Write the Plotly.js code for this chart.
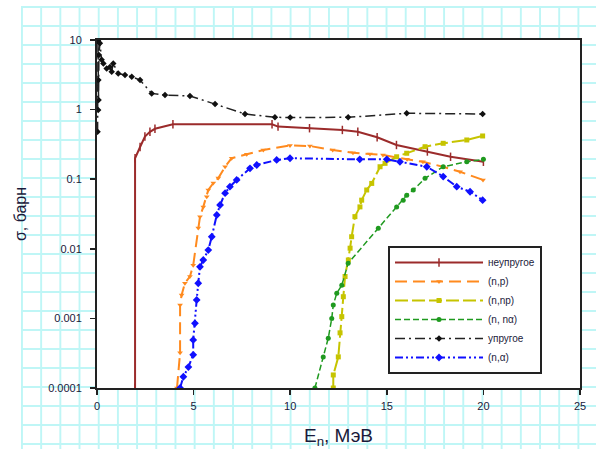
<!DOCTYPE html>
<html>
<head>
<meta charset="utf-8">
<script src="https://cdn.plot.ly/plotly-3.0.1.min.js"></script>
<style>
  html, body { margin: 0; padding: 0; background: #ffffff; }
  #paper {
    position: absolute; left: 21px; top: 6px; right: 0; bottom: 0;
    background-image:
      linear-gradient(to right, #bff6f6 0, #bff6f6 2px, transparent 2px),
      linear-gradient(to bottom, #bff6f6 0, #bff6f6 2px, transparent 2px);
    background-size: 19.2px 19px;
  }
  #chart { position: absolute; left: 0; top: 0; width: 596px; height: 449px; }
</style>
</head>
<body>
<div id="paper"></div>
<div id="chart"></div>
<script>
// Energy (MeV) and cross sections (barn)
const inelE = [1.97, 1.97, 2.23, 2.48, 2.74, 3.0, 3.93, 9.06, 9.37, 11.0, 12.7, 13.5, 14.5, 15.5, 17.1, 18.3, 20.0];
const inelS = [0.0001, 0.20, 0.29, 0.41, 0.48, 0.53, 0.615, 0.615, 0.57, 0.54, 0.51, 0.48, 0.40, 0.31, 0.25, 0.21, 0.178];

const npE = [4.14, 4.30, 4.30, 4.38, 4.55, 4.81, 4.98, 5.24, 5.33, 5.50, 5.68, 5.76, 6.02, 6.28, 6.63, 6.97, 7.75, 8.61, 9.99, 11.02, 12.2, 13.25, 14.13, 14.8, 16.05, 16.87, 17.9, 18.79, 19.98];
const npS = [0.0001, 0.00032, 0.00156, 0.00217, 0.0032, 0.0040, 0.0058, 0.0199, 0.0289, 0.040, 0.056, 0.070, 0.088, 0.104, 0.151, 0.20, 0.228, 0.263, 0.305, 0.30, 0.263, 0.24, 0.23, 0.223, 0.193, 0.178, 0.151, 0.128, 0.0975];

const nnpE = [12.23, 12.23, 12.49, 12.58, 12.67, 12.75, 12.84, 13.01, 13.10, 13.18, 13.35, 13.61, 13.70, 13.96, 14.22, 14.65, 14.91, 15.51, 16.03, 16.98, 17.92, 19.14, 19.96];
const nnpS = [0.0001, 0.000154, 0.00028, 0.00062, 0.00106, 0.00205, 0.0040, 0.0069, 0.0102, 0.0149, 0.029, 0.040, 0.050, 0.070, 0.087, 0.151, 0.169, 0.21, 0.236, 0.293, 0.328, 0.366, 0.418];

const nnaE = [11.28, 11.71, 11.97, 12.15, 12.23, 12.41, 12.67, 13.0, 14.56, 15.51, 15.85, 16.03, 16.37, 16.98, 17.92, 19.14, 20.0];
const nnaS = [0.0001, 0.00028, 0.00052, 0.0010, 0.00156, 0.0023, 0.0030, 0.0062, 0.0197, 0.040, 0.050, 0.059, 0.070, 0.103, 0.151, 0.178, 0.193];

const elE = [0.03, 0.05, 0.06, 0.07, 0.08, 0.10, 0.15, 0.24, 0.33, 0.50, 0.67, 0.76, 0.84, 1.10, 1.45, 1.80, 2.23, 2.83, 3.52, 4.81, 6.11, 7.66, 9.21, 10.0, 13.0, 16.03, 19.96];
const elS = [0.48, 9.8, 0.99, 2.66, 1.37, 6.1, 9.0, 5.2, 4.6, 3.9, 4.1, 3.5, 4.6, 3.3, 3.14, 2.97, 2.66, 1.71, 1.62, 1.57, 1.2, 0.865, 0.775, 0.77, 0.775, 0.885, 0.865];

const naE = [4.30, 4.47, 4.73, 4.98, 4.98, 5.07, 5.16, 5.24, 5.33, 5.50, 5.76, 5.94, 6.20, 6.37, 6.63, 6.88, 7.23, 7.92, 8.27, 9.30, 9.99, 13.6, 15.0, 15.68, 17.07, 17.92, 18.62, 19.31, 19.96];
const naS = [0.0001, 0.000145, 0.00020, 0.00030, 0.00049, 0.00085, 0.00184, 0.0032, 0.0055, 0.0069, 0.0096, 0.0149, 0.0306, 0.0426, 0.063, 0.078, 0.0975, 0.1435, 0.16, 0.189, 0.20, 0.193, 0.193, 0.178, 0.151, 0.109, 0.078, 0.066, 0.050];

const names = ['неупругое', '(n,p)', '(n,np)', '(n, nα)', 'упругое', '(n,α)'];
const xTicks = [0, 5, 10, 15, 20, 25];
const yTickVals = [10, 1, 0.1, 0.01, 0.001, 0.0001];
const yTickText = ['10', '1', '0.1', '0.01', '0.001', '0.0001'];

const traces = [
  {x: inelE, y: inelS, name: names[0], mode: 'lines+markers',
   line: {color: '#9b2b2b', width: 2},
   marker: {symbol: 'line-ns', size: 6, line: {color: '#9b2b2b', width: 1.5}}},
  {x: npE, y: npS, name: names[1], mode: 'lines+markers',
   line: {color: '#ff8a1e', width: 2, dash: '12px,6px'},
   marker: {symbol: 'triangle-down', size: 5, color: '#ff8a1e'}},
  {x: nnpE, y: nnpS, name: names[2], mode: 'lines+markers',
   line: {color: '#c6c400', width: 2, dash: '13px,4px'},
   marker: {symbol: 'square', size: 5, color: '#c6c400'}},
  {x: nnaE, y: nnaS, name: names[3], mode: 'lines+markers',
   line: {color: '#1f9a1f', width: 1.5, dash: '6px,3px'},
   marker: {symbol: 'circle', size: 5, color: '#1f9a1f'}},
  {x: elE, y: elS, name: names[4], mode: 'lines+markers',
   line: {color: '#222222', width: 1.5, dash: '10px,4px,2px,4px'},
   marker: {symbol: 'diamond', size: 5, color: '#111111'}},
  {x: naE, y: naS, name: names[5], mode: 'lines+markers',
   line: {color: '#1010ff', width: 2, dash: '8px,3px,2px,3px,2px,3px'},
   marker: {symbol: 'diamond', size: 6, color: '#1010ff'}}
];

const layout = {
  width: 596, height: 449,
  margin: {l: 97, r: 16, t: 40, b: 61},
  paper_bgcolor: 'rgba(0,0,0,0)',
  plot_bgcolor: '#ffffff',
  font: {family: 'Liberation Sans, Arial, sans-serif', color: '#1a1a3a'},
  showlegend: true,
  legend: {
    x: 0.6025, y: 0.408, xanchor: 'left', yanchor: 'top',
    bgcolor: '#ffffff', bordercolor: '#222222', borderwidth: 2,
    font: {size: 10, color: '#1a1a3a'}, itemwidth: 88, tracegroupgap: 0
  },
  xaxis: {
    range: [0, 25], tickvals: xTicks, ticktext: xTicks.map(String),
    showgrid: false, zeroline: false,
    showline: true, linecolor: '#222222', linewidth: 2, mirror: true,
    ticks: 'outside', ticklen: 5, tickwidth: 1.5, tickcolor: '#222222',
    tickfont: {size: 11}, ticklabelstandoff: 2,
    title: {text: 'E<sub>n</sub>, МэВ', font: {size: 19}, standoff: 20}
  },
  yaxis: {
    type: 'log', range: [-4, 1], tickvals: yTickVals, ticktext: yTickText,
    showgrid: false, zeroline: false,
    showline: true, linecolor: '#222222', linewidth: 2, mirror: true,
    ticks: 'outside', ticklen: 5, tickwidth: 1.5, tickcolor: '#222222',
    tickfont: {size: 11}, ticklabelstandoff: 6,
    title: {text: 'σ, барн', font: {size: 16}, standoff: 18}
  }
};

Plotly.newPlot('chart', traces, layout, {displayModeBar: false, staticPlot: true});
</script>
</body>
</html>
